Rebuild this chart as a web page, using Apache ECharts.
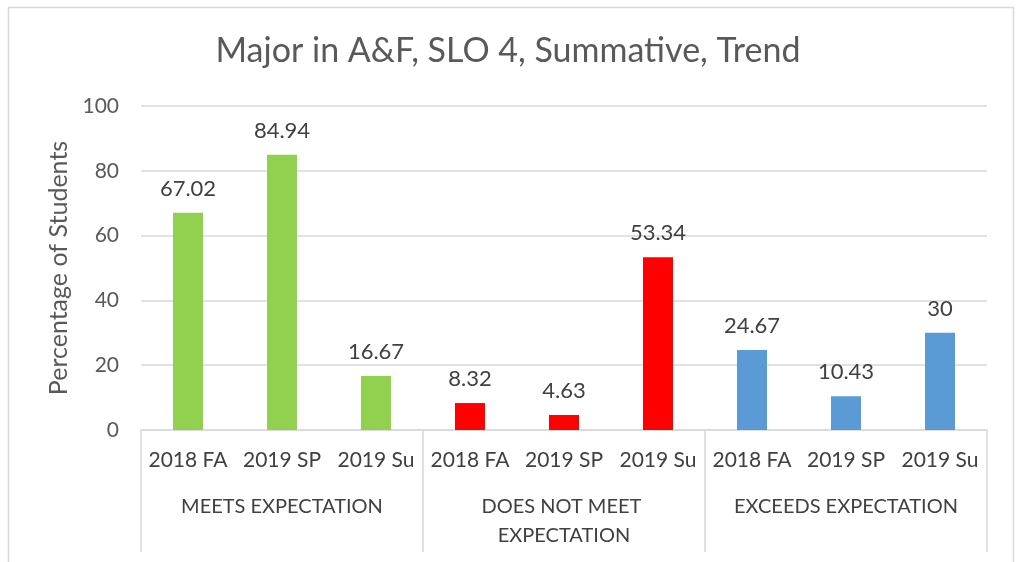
<!DOCTYPE html>
<html lang="en">
  <head>
    <meta charset="UTF-8" />
    <title>Major in A&F, SLO 4, Summative, Trend</title>
    <script src="https://cdn.jsdelivr.net/npm/echarts@6/dist/echarts.min.js"></script>
    <style>
      body { margin: 0; background: #fff; }
      #main { width: 1016px; height: 562px; }
    </style>
  </head>
  <body>
    <div id="main"></div>
    <script>
      // 数据
      const groups = ["MEETS EXPECTATION", "DOES NOT MEET EXPECTATION", "EXCEEDS EXPECTATION"];
      const terms = ["2018 FA", "2019 SP", "2019 Su"];
      const meetsValues = [67.02, 84.94, 16.67];
      const notMeetValues = [8.32, 4.63, 53.34];
      const exceedsValues = [24.67, 10.43, 30];
      const groupColors = ["#92D050", "#FF0000", "#5B9BD5"];
      const yTicks = [0, 20, 40, 60, 80, 100];

      const groupValues = [meetsValues, notMeetValues, exceedsValues];
      const categories = [];
      const barData = [];
      groupValues.forEach((vals, g) => {
        vals.forEach((v, i) => {
          categories.push(terms[i]);
          barData.push({ value: v, itemStyle: { color: groupColors[g] } });
        });
      });

      const font = "Lato, 'Open Sans', sans-serif";
      const chart = echarts.init(document.getElementById("main"));

      const option = {
        backgroundColor: "#fff",
        animation: false,
        textStyle: { fontFamily: font },
        title: {
          text: "Major in A&F, SLO 4, Summative, Trend",
          left: "center",
          top: 29,
          textStyle: { fontSize: 34, fontWeight: "normal", color: "#595959", fontFamily: font },
        },
        graphic: [
          {
            type: "rect",
            shape: { x: 8.5, y: 7.5, width: 1005, height: 600 },
            style: { fill: "none", stroke: "#d9d9d9", lineWidth: 1.5 },
            silent: true,
          },
        ],
        grid: { left: 141, right: 29, top: 106, bottom: 132 },
        xAxis: [
          {
            type: "category",
            data: categories,
            position: "bottom",
            axisLine: { lineStyle: { color: "#d9d9d9", width: 1.5 } },
            axisTick: { show: false },
            axisLabel: { interval: 0, margin: 20, fontSize: 21, color: "#404040", fontFamily: font },
          },
          {
            type: "category",
            data: groups,
            position: "bottom",
            axisLine: { show: false },
            axisTick: { show: true, length: 122, lineStyle: { color: "#d9d9d9", width: 1.5 } },
            axisLabel: {
              interval: 0,
              margin: 62,
              fontSize: 20,
              lineHeight: 29,
              color: "#404040",
              fontFamily: font,
              width: 250,
              overflow: "break",
            },
          },
        ],
        yAxis: {
          type: "value",
          min: yTicks[0],
          max: yTicks[yTicks.length - 1],
          interval: 20,
          name: "Percentage of Students",
          nameLocation: "middle",
          nameGap: 66,
          nameTextStyle: { fontSize: 25, color: "#595959", fontFamily: font },
          axisLine: { show: false },
          axisTick: { show: false },
          axisLabel: { margin: 22, fontSize: 21, color: "#595959", fontFamily: font },
          splitLine: { lineStyle: { color: "#d9d9d9", width: 1.5 } },
        },
        series: [
          {
            type: "bar",
            xAxisIndex: 0,
            data: barData,
            barWidth: 30,
            label: {
              show: true,
              position: "top",
              distance: 13,
              fontSize: 22,
              color: "#404040",
              fontFamily: font,
            },
          },
        ],
      };

      chart.setOption(option);
    </script>
  </body>
</html>
